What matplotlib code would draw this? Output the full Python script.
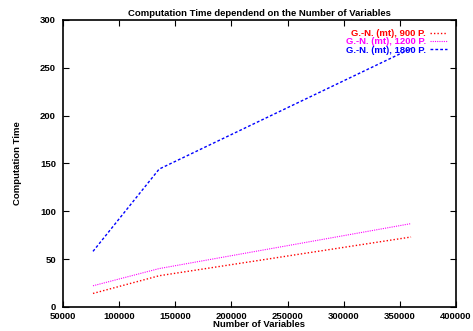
import matplotlib.pyplot as plt

# data
num_vars = [76800, 135700, 360000]
time_900 = [14, 32.5, 73]
time_1200 = [22, 40, 87]
time_1800 = [58, 144, 270]

labels = ["G.-N. (mt), 900 P.", "G.-N. (mt), 1200 P.", "G.-N. (mt), 1800 P."]
colors = ["#ff0000", "#ff00ff", "#0000ff"]

plt.rcParams["font.family"] = ["Liberation Sans", "DejaVu Sans"]
plt.rcParams["font.weight"] = "bold"

fig = plt.figure(figsize=(4.73, 3.31), dpi=100)
ax = fig.add_axes([0.133, 0.073, 0.831, 0.867])

ax.plot(num_vars, time_900, color=colors[0], lw=1, linestyle=(0, (1, 1.5)), label=labels[0])
ax.plot(num_vars, time_1200, color=colors[1], lw=0.8, linestyle=(0, (1, 1)), label=labels[1])
ax.plot(num_vars, time_1800, color=colors[2], lw=1, linestyle=(0, (2, 1.5)), label=labels[2])

ax.set_xlim(50000, 400000)
ax.set_ylim(0, 300)
ax.set_xticks(range(50000, 400001, 50000))
ax.set_yticks(range(0, 301, 50))
ax.tick_params(direction="in", top=True, right=True, labelsize=6.8, length=4, width=0.8)
ax.tick_params(axis="x", pad=4)
ax.tick_params(axis="y", pad=5)
for s in ax.spines.values():
    s.set_linewidth(1.2)

ax.set_title("Computation Time dependend on the Number of Variables", fontsize=6.8, fontweight="bold", pad=3)
ax.set_xlabel("Number of Variables", fontsize=6.8, fontweight="bold", labelpad=-1)
ax.set_ylabel("Computation Time", fontsize=6.8, fontweight="bold", labelpad=13)

leg = ax.legend(loc="upper right", bbox_to_anchor=(0.977, 0.968), markerfirst=False,
                frameon=False, fontsize=6.8, handlelength=1.8, labelspacing=-0.08,
                handletextpad=0.4, borderaxespad=0, borderpad=0)
for txt, c in zip(leg.get_texts(), colors):
    txt.set_color(c)

fig.savefig("out.png", dpi=100)
